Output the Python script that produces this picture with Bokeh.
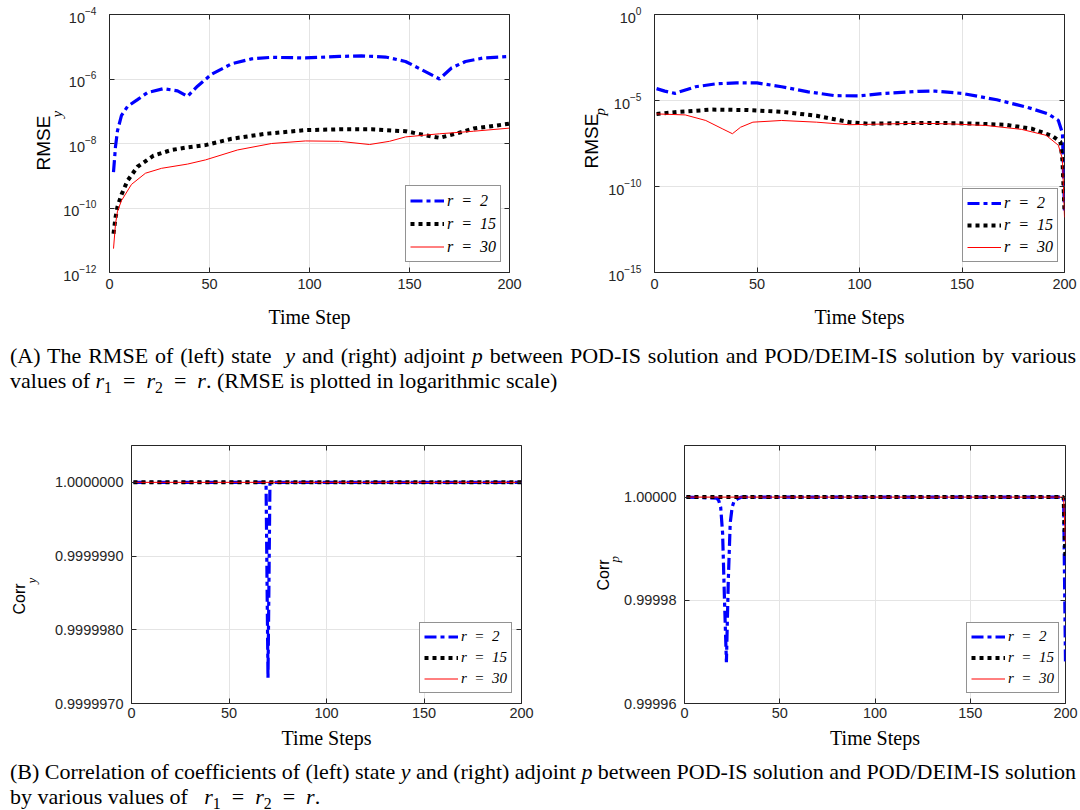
from bokeh.plotting import figure
from bokeh.models import (Range1d, FixedTicker, PrintfTickFormatter, Div, Title,
                          LinearAxis, LogAxis, CustomJSTickFormatter)
from bokeh.layouts import column, row
from bokeh.embed import file_html
from bokeh.resources import INLINE

# ---------------- data ----------------
# (A left) RMSE of state y
ry_t2 = [2, 3, 4, 6, 9, 14, 19, 27, 34, 39, 44, 51, 61, 71, 81, 98, 115, 126, 138, 148, 156, 165, 171, 178, 187, 200]
ry_v2 = [1.3e-9, 8e-9, 2.5e-8, 7.4e-8, 1.4e-7, 2.3e-7, 3.8e-7, 5.0e-7, 4.3e-7, 2.9e-7, 6.0e-7, 1.4e-6, 2.95e-6,
         4.2e-6, 4.7e-6, 4.5e-6, 5.0e-6, 5.2e-6, 4.8e-6, 3.5e-6, 1.95e-6, 1.0e-6, 2.2e-6, 3.5e-6, 4.5e-6, 5.0e-6]
ry_t15 = [2, 3, 4, 6, 9, 14, 22, 31, 39, 48, 61, 78, 98, 115, 131, 148, 161, 165, 173, 182, 200]
ry_v15 = [1.6e-11, 5e-11, 1.1e-10, 2.6e-10, 7e-10, 1.9e-9, 4.2e-9, 6.3e-9, 7.6e-9, 8.9e-9, 1.4e-8, 2.0e-8,
          2.6e-8, 2.75e-8, 2.75e-8, 2.4e-8, 1.66e-8, 1.5e-8, 2.0e-8, 2.9e-8, 4.1e-8]
ry_t30 = [2, 3, 4, 6, 11, 18, 26, 39, 48, 64, 81, 98, 115, 130, 140, 148, 165, 182, 200]
ry_v30 = [5.5e-12, 3.2e-11, 8e-11, 1.7e-10, 5.4e-10, 1.2e-9, 1.7e-9, 2.3e-9, 3.1e-9, 6.3e-9, 1.0e-8, 1.2e-8,
          1.17e-8, 9.3e-9, 1.17e-8, 1.6e-8, 2.0e-8, 2.4e-8, 3.0e-8]

# (A right) RMSE of adjoint p
rp_t2 = [1, 5, 10, 20, 30, 40, 50, 62, 75, 88, 100, 112, 129, 137, 150, 167, 182, 192, 197, 199, 200]
rp_v2 = [4.9e-5, 3.5e-5, 2.6e-5, 6.3e-5, 9.3e-5, 1.07e-4, 1.05e-4, 6.3e-5, 3.2e-5, 1.9e-5, 1.86e-5, 2.6e-5,
         3.4e-5, 3.5e-5, 2.6e-5, 1.1e-5, 4e-6, 1.66e-6, 6.9e-7, 1.26e-7, 4e-12]
rp_t15 = [1, 12, 28, 45, 62, 79, 95, 104, 120, 137, 154, 171, 184, 194, 198, 199, 200]
rp_v15 = [1.66e-6, 2.2e-6, 2.95e-6, 2.8e-6, 2.2e-6, 1.3e-6, 5.5e-7, 4.5e-7, 4.8e-7, 5.0e-7, 4.6e-7, 3.9e-7,
          2.3e-7, 8.7e-8, 4e-8, 3.2e-9, 4e-12]
rp_t30 = [1, 15, 25, 33, 38, 42, 48, 62, 79, 95, 112, 129, 146, 162, 179, 191, 197, 199, 200]
rp_v30 = [1.66e-6, 1.45e-6, 6.9e-7, 2.3e-7, 1.17e-7, 2.8e-7, 5.5e-7, 6.9e-7, 5.5e-7, 3.9e-7, 4.3e-7, 4.8e-7,
          4.3e-7, 3.5e-7, 2.1e-7, 9.5e-8, 2.5e-8, 4e-9, 1.6e-12]

# (B left) correlation of state y
cy_t2 = [1, 69, 70, 71, 200]
cy_v2 = [1.0, 1.0, 0.99999735, 1.0, 1.0]
cy_t15 = [1, 200]
cy_v15 = [1.0, 1.0]
cy_t30 = [1, 200]
cy_v30 = [1.0, 1.0]

# (B right) correlation of adjoint p
cp_t2 = [1, 17, 18, 19, 20, 21, 22, 23, 24, 25, 26, 28, 30, 199, 200]
cp_v2 = [1.0, 0.9999998, 0.9999993, 0.999998, 0.999993, 0.99998, 0.999968, 0.999984, 0.999995, 0.999998,
         0.9999992, 0.9999997, 1.0, 1.0, 0.999968]
cp_t15 = [1, 199, 200]
cp_v15 = [1.0, 1.0, 0.999988]
cp_t30 = [1, 199, 200]
cp_v30 = [1.0, 1.0, 0.999991]

x_ticks = [0, 50, 100, 150, 200]
legend_labels = ["r\u2002=\u20022", "r\u2002=\u200215", "r\u2002=\u200230"]

# ---------------- styling helpers ----------------
AX = "#262626"
SANS = "Liberation Sans"
SERIF = "Liberation Serif"
empty_fmt = CustomJSTickFormatter(code="return ''")


def make_fig(width, height, left, right, top, bottom, y_range, log=False):
    p = figure(width=width, height=height, x_range=Range1d(0, 200), y_range=y_range,
               y_axis_type="log" if log else "linear", output_backend="svg",
               toolbar_location=None, min_border_left=left, min_border_right=right,
               min_border_top=top, min_border_bottom=bottom)
    p.outline_line_color = AX
    p.outline_line_width = 1
    p.background_fill_color = "white"
    p.border_fill_color = "white"
    p.xgrid.grid_line_color = "#e4e4e4"
    p.ygrid.grid_line_color = "#e4e4e4"
    p.xaxis.ticker = FixedTicker(ticks=x_ticks)
    for ax in (p.xaxis[0], p.yaxis[0]):
        ax.axis_line_color = None
        ax.major_tick_in = 5
        ax.major_tick_out = 0
        ax.major_tick_line_color = AX
        ax.minor_tick_line_color = None
        ax.major_label_text_font = SANS
        ax.major_label_text_font_size = "14.5px"
        ax.major_label_text_color = AX
    p.xaxis.axis_label_text_font = SERIF
    p.xaxis.axis_label_text_font_size = "20px"
    p.xaxis.axis_label_text_font_style = "normal"
    p.xaxis.axis_label_text_color = "black"
    return p


def add_box_ticks(p, yticks, log=False):
    ax_cls = LogAxis if log else LinearAxis
    r = ax_cls(ticker=FixedTicker(ticks=yticks), formatter=empty_fmt, axis_line_color=None,
               major_tick_in=5, major_tick_out=0, major_tick_line_color=AX,
               minor_tick_line_color=None, major_label_standoff=0)
    p.add_layout(r, "right")
    t = LinearAxis(ticker=FixedTicker(ticks=x_ticks), formatter=empty_fmt, axis_line_color=None,
                   major_tick_in=5, major_tick_out=0, major_tick_line_color=AX,
                   minor_tick_line_color=None, major_label_standoff=0)
    p.add_layout(t, "above")


def draw_series(p, t2, v2, t15, v15, t30, v30):
    p.line(t2, v2, line_color="#0000ff", line_width=3.2, line_dash="12 4 4 4", legend_label=legend_labels[0])
    p.line(t15, v15, line_color="black", line_width=4, line_dash="4 4", legend_label=legend_labels[1])
    p.line(t30, v30, line_color="#ff0000", line_width=1, legend_label=legend_labels[2])


def style_legend(p, loc, font_size, row_h):
    lg = p.legend[0]
    lg.location = loc
    lg.border_line_color = AX
    lg.border_line_width = 1
    lg.background_fill_color = "white"
    lg.background_fill_alpha = 1
    lg.label_text_font = SERIF
    lg.label_text_font_style = "italic"
    lg.label_text_font_size = font_size
    lg.label_text_color = "black"
    lg.glyph_width = 34
    lg.glyph_height = row_h
    lg.label_height = row_h
    lg.label_standoff = 3
    lg.spacing = 2
    lg.padding = 4
    lg.margin = 0


def y_title(p, main, sub, main_size, sub_size, off_main, off_sub, so_main, so_sub, spacer=0):
    if spacer:
        p.add_layout(Title(text=" ", text_font_size=f"{spacer}px", standoff=0), "left")
    p.add_layout(Title(text=sub, text_font=SERIF, text_font_style="italic", text_font_size=sub_size,
                       text_color="black", align="left", offset=off_sub, standoff=so_sub,
                       vertical_align="bottom"), "left")
    p.add_layout(Title(text=main, text_font=SANS, text_font_style="normal", text_font_size=main_size,
                       text_color="black", align="left", offset=off_main, standoff=so_main,
                       vertical_align="bottom"), "left")


# ---------------- (A) left ----------------
p1 = make_fig(529, 330, 109, 20, 14, 54, Range1d(1e-12, 1e-4), log=True)
p1.yaxis.ticker = FixedTicker(ticks=[1e-12, 1e-10, 1e-8, 1e-6, 1e-4])
p1.yaxis.major_label_standoff = 13
p1.xaxis.major_label_standoff = 6
p1.xaxis.axis_label = "Time Step"
p1.xaxis.axis_label_standoff = 14
add_box_ticks(p1, [1e-12, 1e-10, 1e-8, 1e-6, 1e-4], log=True)
draw_series(p1, ry_t2, ry_v2, ry_t15, ry_v15, ry_t30, ry_v30)
style_legend(p1, (296, 10), "16px", 21)
y_title(p1, "RMSE", "y", "19px", "15px", 102, 155, -6, -8)

# ---------------- (A) right ----------------
p2 = make_fig(551, 330, 125, 16, 14, 54, Range1d(1e-15, 1.0), log=True)
p2.yaxis.ticker = FixedTicker(ticks=[1e-15, 1e-10, 1e-5, 1.0])
p2.yaxis.major_label_standoff = 13
p2.xaxis.major_label_standoff = 6
p2.xaxis.axis_label = "Time Steps"
p2.xaxis.axis_label_standoff = 14
add_box_ticks(p2, [1e-15, 1e-10, 1e-5, 1.0], log=True)
draw_series(p2, rp_t2, rp_v2, rp_t15, rp_v15, rp_t30, rp_v30)
style_legend(p2, (308, 10), "16px", 20)
y_title(p2, "RMSE", "p", "19px", "15px", 104, 157, -20, -4)

# ---------------- (B) left ----------------
p3 = make_fig(541, 320, 131, 20, 10, 52, Range1d(0.999997, 1.0000005))
p3.yaxis.ticker = FixedTicker(ticks=[0.999997, 0.999998, 0.999999, 1.0])
p3.yaxis.formatter = PrintfTickFormatter(format="%.7f")
p3.yaxis.major_label_standoff = 8
p3.xaxis.major_label_standoff = 4
p3.xaxis.axis_label = "Time Steps"
p3.xaxis.axis_label_standoff = 6
add_box_ticks(p3, [0.999997, 0.999998, 0.999999, 1.0])
draw_series(p3, cy_t2, cy_v2, cy_t15, cy_v15, cy_t30, cy_v30)
style_legend(p3, (288, 10), "15px", 19)
y_title(p3, "Corr", "y", "16px", "13px", 89, 120, -12, 0, spacer=10)

# ---------------- (B) right ----------------
p4 = make_fig(539, 320, 143, 15, 10, 52, Range1d(0.99996, 1.00001))
p4.yaxis.ticker = FixedTicker(ticks=[0.99996, 0.99998, 1.0])
p4.yaxis.formatter = PrintfTickFormatter(format="%.5f")
p4.yaxis.major_label_standoff = 8
p4.xaxis.major_label_standoff = 4
p4.xaxis.axis_label = "Time Steps"
p4.xaxis.axis_label_standoff = 6
add_box_ticks(p4, [0.99996, 0.99998, 1.0])
draw_series(p4, cp_t2, cp_v2, cp_t15, cp_v15, cp_t30, cp_v30)
style_legend(p4, (282, 10), "15px", 19)
y_title(p4, "Corr", "p", "16px", "13px", 113, 141, -14, 0)

# ---------------- captions ----------------
cap_style = {"font-family": "'Liberation Serif', serif", "font-size": "22px", "line-height": "24.5px",
             "white-space": "nowrap", "overflow": "hidden", "color": "black"}
SUB = '<sub style="font-size:72%;vertical-align:-0.3em;line-height:0">'
R12 = ('<i>r</i>' + SUB + '1</sub>&ensp;=&ensp;<i>r</i>' + SUB + '2</sub>&ensp;=&ensp;<i>r</i>')
J = ('<div style="width:1066px;white-space:normal;word-spacing:-1.5px;'
     'text-align:justify;text-align-last:justify">{t}</div>')
capA_text = ('<div style="padding:14px 0 0 10px">'
             + J.format(t='(A) The RMSE of (left) state&nbsp; <i>y</i> and (right) adjoint <i>p</i> '
                          'between POD-IS solution and POD/DEIM-IS solution by various')
             + '<div>values of ' + R12 + '. (RMSE is plotted in logarithmic scale)</div></div>')
capB_text = ('<div style="padding:5px 0 0 10px">'
             + J.format(t='(B) Correlation of coefficients of (left) state <i>y</i> and (right) adjoint '
                          '<i>p</i> between POD-IS solution and POD/DEIM-IS solution')
             + '<div>by various values of&nbsp;&nbsp; ' + R12 + '.</div></div>')
capA = Div(text=capA_text, width=1080, height=105, margin=0, styles=cap_style)
capB = Div(text=capB_text, width=1080, height=55, margin=0, styles=cap_style)

layout = column(row(p1, p2, spacing=0), capA, row(p3, p4, spacing=0), capB, spacing=0)

open("out.html", "w").write(file_html(layout, INLINE, title="POD-IS vs POD/DEIM-IS"))
